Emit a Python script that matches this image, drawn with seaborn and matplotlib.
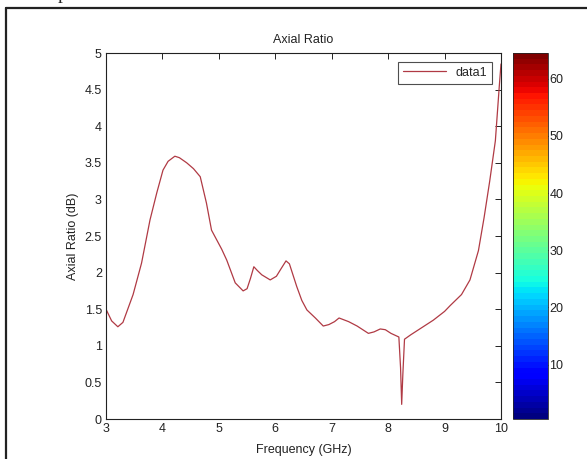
import numpy as np
import pandas as pd
import matplotlib
matplotlib.use('Agg')
import matplotlib.pyplot as plt
import seaborn as sns
from matplotlib.lines import Line2D

# Axial ratio curve
freq_ghz = [3.0, 3.1, 3.21, 3.3, 3.48, 3.63, 3.78, 3.9, 4.01, 4.1, 4.22, 4.3, 4.43,
            4.55, 4.67, 4.78, 4.87, 4.96, 5.05, 5.14, 5.29, 5.43, 5.5, 5.56, 5.62,
            5.68, 5.76, 5.91, 6.02, 6.1, 6.19, 6.25, 6.38, 6.47, 6.56, 6.71, 6.85,
            6.95, 7.05, 7.13, 7.3, 7.45, 7.65, 7.75, 7.86, 7.95, 8.05, 8.19, 8.22,
            8.24, 8.26, 8.29, 8.4, 8.6, 8.8, 9.0, 9.1, 9.3, 9.45, 9.6, 9.7, 9.8,
            9.9, 9.97, 10.0]
axial_ratio = [1.5, 1.34, 1.26, 1.32, 1.7, 2.13, 2.72, 3.09, 3.4, 3.52, 3.59, 3.57,
               3.5, 3.42, 3.31, 2.95, 2.58, 2.45, 2.32, 2.17, 1.86, 1.75, 1.78,
               1.92, 2.08, 2.03, 1.97, 1.9, 1.95, 2.05, 2.16, 2.12, 1.81, 1.62,
               1.49, 1.38, 1.27, 1.29, 1.33, 1.38, 1.33, 1.27, 1.17, 1.19, 1.23,
               1.22, 1.17, 1.12, 0.7, 0.2, 0.6, 1.09, 1.15, 1.25, 1.35, 1.47,
               1.55, 1.7, 1.9, 2.3, 2.75, 3.25, 3.8, 4.55, 4.85]

x_ticks = [3, 4, 5, 6, 7, 8, 9, 10]
y_ticks = [0, 0.5, 1, 1.5, 2, 2.5, 3, 3.5, 4, 4.5, 5]
y_tick_labels = ['0', '0.5', '1', '1.5', '2', '2.5', '3', '3.5', '4', '4.5', '5']
cbar_ticks = [10, 20, 30, 40, 50, 60]

df = pd.DataFrame({'Frequency (GHz)': freq_ghz, 'Axial Ratio (dB)': axial_ratio})

sns.set_style('white')
plt.rcParams['font.family'] = ['Liberation Sans', 'DejaVu Sans']
plt.rcParams['font.size'] = 9

W, H = 587, 459
fig = plt.figure(figsize=(W / 100, H / 100), dpi=100)
fig.patch.set_facecolor('white')

ax = fig.add_axes([106 / W, 1 - 419 / H, 395 / W, 366 / H])
sns.lineplot(data=df, x='Frequency (GHz)', y='Axial Ratio (dB)', ax=ax,
             color='#b03a44', linewidth=0.9, label='data1', sort=False)

ax.set_xlim(3, 10)
ax.set_ylim(0, 5)
ax.set_xticks(x_ticks)
ax.set_yticks(y_ticks)
ax.set_yticklabels(y_tick_labels)
ax.tick_params(direction='in', top=True, right=True, length=4, width=0.7,
               labelsize=9, colors='#222222', pad=3)
for s in ax.spines.values():
    s.set_linewidth(0.8)
    s.set_color('#222222')
ax.set_title('Axial Ratio', fontsize=9, pad=7, color='#222222')
ax.set_xlabel('Frequency (GHz)', fontsize=9, labelpad=6, color='#222222')
ax.set_ylabel('Axial Ratio (dB)', fontsize=9, labelpad=4, color='#222222')

leg = ax.legend(loc='upper right', frameon=True, fancybox=False, fontsize=9,
                handlelength=3.4, borderaxespad=0.7, borderpad=0.4)
leg.get_frame().set_edgecolor('#222222')
leg.get_frame().set_linewidth(0.8)

# colorbar (jet, 64 colors)
cax = fig.add_axes([512.5 / W, 1 - 419 / H, 35.5 / W, 366 / H])
cmap = plt.get_cmap('jet', 64)
sm = matplotlib.cm.ScalarMappable(norm=matplotlib.colors.Normalize(0.5, 64.5), cmap=cmap)
cb = fig.colorbar(sm, cax=cax, ticks=cbar_ticks)
cb.outline.set_linewidth(0.6)
cax.tick_params(direction='in', length=4, width=0.7, labelsize=9, colors='#222222', pad=1)

# page border and cropped glyph from the surrounding document
fig.add_artist(Line2D([5.5 / W, 5.5 / W], [0, 1 - 8 / H], color='#222222', lw=1.6,
                      transform=fig.transFigure))
fig.add_artist(Line2D([5.5 / W, 1], [1 - 8 / H, 1 - 8 / H], color='#222222', lw=1.6,
                      transform=fig.transFigure))
fig.text(58 / W, 1 + 1 / H, 'p', fontsize=14, family='Liberation Serif', va='baseline')

fig.savefig('out.png', dpi=100)
